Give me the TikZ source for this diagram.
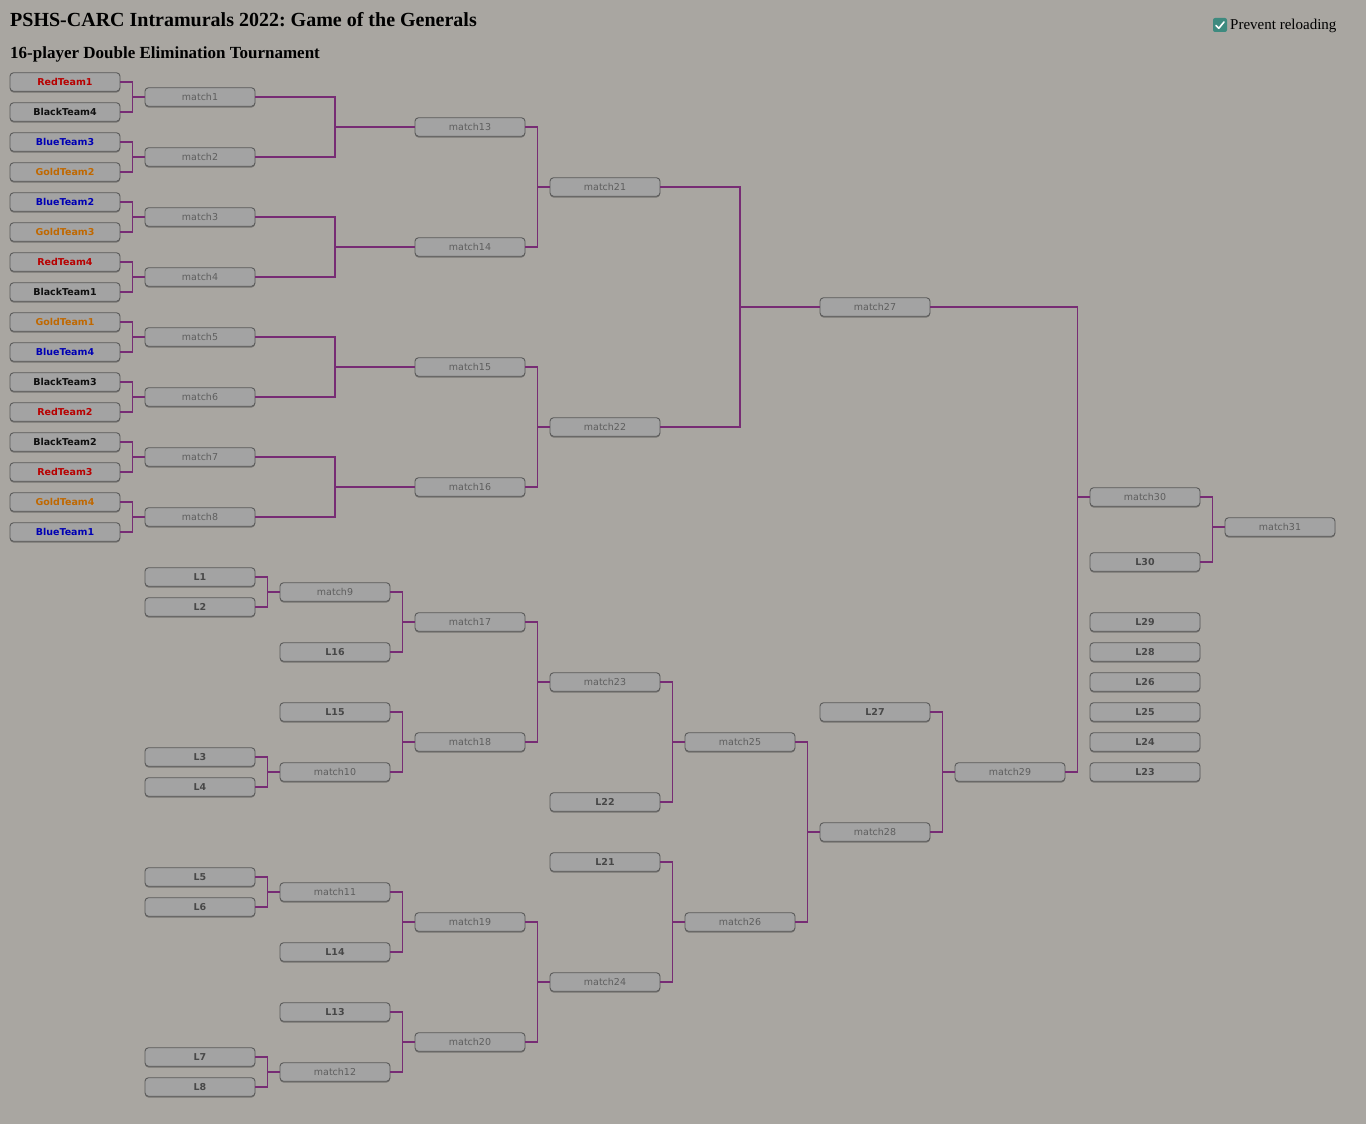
\documentclass[tikz,border=0pt]{standalone}
\usepackage{fontspec}
\setmainfont{Liberation Serif}
\newfontfamily\boxfont{DejaVu Sans}
\usetikzlibrary{calc,shadows}
\frenchspacing
\definecolor{bgcol}{HTML}{A9A6A1}
\definecolor{boxfill}{HTML}{A3A3A3}
\definecolor{boxline}{HTML}{5A5A5A}
\definecolor{matchtext}{HTML}{5E5E5E}
\definecolor{ltext}{HTML}{484848}
\definecolor{conncol}{HTML}{772C74}
\definecolor{redteam}{HTML}{B80000}
\definecolor{blueteam}{HTML}{0000B4}
\definecolor{goldteam}{HTML}{C06800}
\definecolor{blackteam}{HTML}{101010}
\definecolor{checkcol}{HTML}{3E8A7F}
\tikzset{
  slot/.style={draw=boxline, fill=boxfill, line width=0.9pt, rounded corners=3.5pt,
    minimum width=110pt, minimum height=18.5pt, inner sep=0pt,
    font=\boxfont\fontsize{9.5}{11}\selectfont,
    drop shadow={shadow xshift=0pt, shadow yshift=-1.3pt, opacity=0.3, fill=black}},
  matchbox/.style={slot, text=matchtext},
  lbox/.style={slot, text=ltext, font=\boxfont\bfseries\fontsize{9.5}{11}\selectfont},
  teambox/.style={slot, text=#1, font=\boxfont\bfseries\fontsize{9.5}{11}\selectfont},
  conn/.style={draw=conncol, line width=1.4pt},
}
\newcommand\bracketlink[3]{%
  \coordinate (mid) at ($(#2.east)!.5!(#3.west)$);
  \draw[conn] (#1.east) -| (mid |- #2.east) -- (#2.east);
  \draw[conn] (mid |- #3.west) -- (#3.west);
}
\begin{document}
\begin{tikzpicture}[x=1pt,y=-1pt]
\fill[bgcol] (0,0) rectangle (1366,1124);
\useasboundingbox (0,0) rectangle (1366,1124);

% titles
\node[anchor=base west, inner sep=0pt, font=\bfseries\fontsize{20}{24}\selectfont] (title) at (10,27) {PSHS-CARC Intramurals 2022: Game of the Generals};
\node[anchor=base west, inner sep=0pt, font=\bfseries\fontsize{17}{20}\selectfont] (subtitle) at (10,59) {16-player Double Elimination Tournament};
\node[fill=checkcol, rounded corners=2pt, minimum size=14pt, inner sep=0pt] (chk) at (1220,25) {};
\draw[white, line width=1.6pt, line cap=round, line join=round] ($(chk.center)+(-4,0.5)$) -- ($(chk.center)+(-1.2,3.3)$) -- ($(chk.center)+(4,-3)$);
\node[anchor=base west, inner sep=0pt, font=\fontsize{15}{18}\selectfont] (prevent) at (1230,29.5) {Prevent reloading};

% teams
\node[teambox=redteam]   (t1)  at (65,82)  {RedTeam1};
\node[teambox=blackteam] (t2)  at (65,112) {BlackTeam4};
\node[teambox=blueteam]  (t3)  at (65,142) {BlueTeam3};
\node[teambox=goldteam]  (t4)  at (65,172) {GoldTeam2};
\node[teambox=blueteam]  (t5)  at (65,202) {BlueTeam2};
\node[teambox=goldteam]  (t6)  at (65,232) {GoldTeam3};
\node[teambox=redteam]   (t7)  at (65,262) {RedTeam4};
\node[teambox=blackteam] (t8)  at (65,292) {BlackTeam1};
\node[teambox=goldteam]  (t9)  at (65,322) {GoldTeam1};
\node[teambox=blueteam]  (t10) at (65,352) {BlueTeam4};
\node[teambox=blackteam] (t11) at (65,382) {BlackTeam3};
\node[teambox=redteam]   (t12) at (65,412) {RedTeam2};
\node[teambox=blackteam] (t13) at (65,442) {BlackTeam2};
\node[teambox=redteam]   (t14) at (65,472) {RedTeam3};
\node[teambox=goldteam]  (t15) at (65,502) {GoldTeam4};
\node[teambox=blueteam]  (t16) at (65,532) {BlueTeam1};

% column 1
\node[matchbox] (m1) at (200,97)  {match1};
\node[matchbox] (m2) at (200,157) {match2};
\node[matchbox] (m3) at (200,217) {match3};
\node[matchbox] (m4) at (200,277) {match4};
\node[matchbox] (m5) at (200,337) {match5};
\node[matchbox] (m6) at (200,397) {match6};
\node[matchbox] (m7) at (200,457) {match7};
\node[matchbox] (m8) at (200,517) {match8};
\node[lbox] (L1) at (200,577)  {L1};
\node[lbox] (L2) at (200,607)  {L2};
\node[lbox] (L3) at (200,757)  {L3};
\node[lbox] (L4) at (200,787)  {L4};
\node[lbox] (L5) at (200,877)  {L5};
\node[lbox] (L6) at (200,907)  {L6};
\node[lbox] (L7) at (200,1057) {L7};
\node[lbox] (L8) at (200,1087) {L8};

% column 2
\node[matchbox] (m9)  at (335,592)  {match9};
\node[lbox]     (L16) at (335,652)  {L16};
\node[lbox]     (L15) at (335,712)  {L15};
\node[matchbox] (m10) at (335,772)  {match10};
\node[matchbox] (m11) at (335,892)  {match11};
\node[lbox]     (L14) at (335,952)  {L14};
\node[lbox]     (L13) at (335,1012) {L13};
\node[matchbox] (m12) at (335,1072) {match12};

% column 3
\node[matchbox] (m13) at (470,127)  {match13};
\node[matchbox] (m14) at (470,247)  {match14};
\node[matchbox] (m15) at (470,367)  {match15};
\node[matchbox] (m16) at (470,487)  {match16};
\node[matchbox] (m17) at (470,622)  {match17};
\node[matchbox] (m18) at (470,742)  {match18};
\node[matchbox] (m19) at (470,922)  {match19};
\node[matchbox] (m20) at (470,1042) {match20};

% column 4
\node[matchbox] (m21) at (605,187) {match21};
\node[matchbox] (m22) at (605,427) {match22};
\node[matchbox] (m23) at (605,682) {match23};
\node[lbox]     (L22) at (605,802) {L22};
\node[lbox]     (L21) at (605,862) {L21};
\node[matchbox] (m24) at (605,982) {match24};

% column 5
\node[matchbox] (m25) at (740,742) {match25};
\node[matchbox] (m26) at (740,922) {match26};

% column 6
\node[matchbox] (m27) at (875,307) {match27};
\node[lbox]     (L27) at (875,712) {L27};
\node[matchbox] (m28) at (875,832) {match28};

% column 7
\node[matchbox] (m29) at (1010,772) {match29};

% column 8
\node[matchbox] (m30) at (1145,497) {match30};
\node[lbox] (L30) at (1145,562) {L30};
\node[lbox] (L29) at (1145,622) {L29};
\node[lbox] (L28) at (1145,652) {L28};
\node[lbox] (L26) at (1145,682) {L26};
\node[lbox] (L25) at (1145,712) {L25};
\node[lbox] (L24) at (1145,742) {L24};
\node[lbox] (L23) at (1145,772) {L23};

% column 9
\node[matchbox] (m31) at (1280,527) {match31};

% connectors: winners bracket
\bracketlink{t1}{t2}{m1}
\bracketlink{t3}{t4}{m2}
\bracketlink{t5}{t6}{m3}
\bracketlink{t7}{t8}{m4}
\bracketlink{t9}{t10}{m5}
\bracketlink{t11}{t12}{m6}
\bracketlink{t13}{t14}{m7}
\bracketlink{t15}{t16}{m8}
\bracketlink{m1}{m2}{m13}
\bracketlink{m3}{m4}{m14}
\bracketlink{m5}{m6}{m15}
\bracketlink{m7}{m8}{m16}
\bracketlink{m13}{m14}{m21}
\bracketlink{m15}{m16}{m22}
\bracketlink{m21}{m22}{m27}

% losers bracket
\bracketlink{L1}{L2}{m9}
\bracketlink{L3}{L4}{m10}
\bracketlink{L5}{L6}{m11}
\bracketlink{L7}{L8}{m12}
\bracketlink{m9}{L16}{m17}
\bracketlink{L15}{m10}{m18}
\bracketlink{m11}{L14}{m19}
\bracketlink{L13}{m12}{m20}
\bracketlink{m17}{m18}{m23}
\bracketlink{m19}{m20}{m24}
\bracketlink{m23}{L22}{m25}
\bracketlink{L21}{m24}{m26}
\bracketlink{m25}{m26}{m28}
\bracketlink{L27}{m28}{m29}

% finals
\bracketlink{m27}{m29}{m30}
\bracketlink{m30}{L30}{m31}
\end{tikzpicture}
\end{document}
